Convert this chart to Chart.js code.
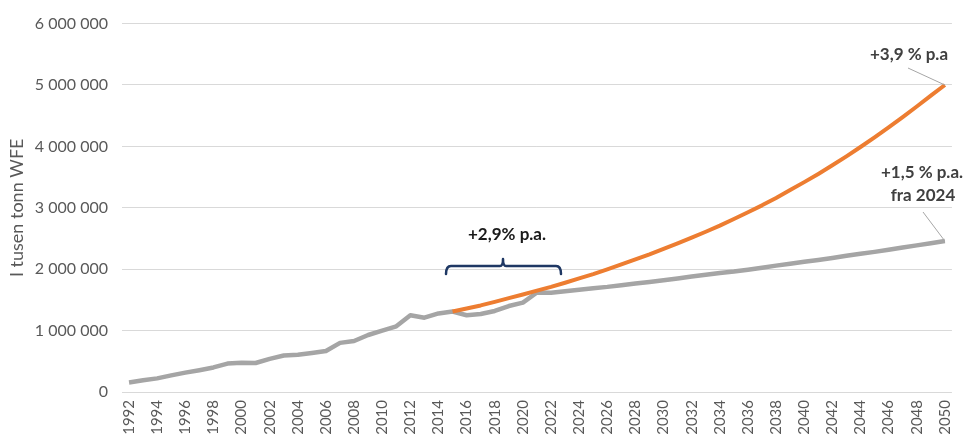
<!DOCTYPE html>
<html>
<head>
<meta charset="utf-8">
<script src="https://cdn.jsdelivr.net/npm/chart.js@4.4.1/dist/chart.umd.min.js"></script>
<style>
  html, body { margin: 0; padding: 0; background: #fff; }
  #wrap { width: 971px; height: 440px; position: relative; }
</style>
</head>
<body>
<div id="wrap"><canvas id="chart"></canvas></div>
<script>
// --- DATA ---
const years = [
  '1992','1993','1994','1995','1996','1997','1998','1999','2000','2001',
  '2002','2003','2004','2005','2006','2007','2008','2009','2010','2011',
  '2012','2013','2014','2015','2016','2017','2018','2019','2020','2021',
  '2022','2023','2024','2025','2026','2027','2028','2029','2030','2031',
  '2032','2033','2034','2035','2036','2037','2038','2039','2040','2041',
  '2042','2043','2044','2045','2046','2047','2048','2049','2050'
];

// grey: history + 1,5 % p.a. from 2024
const greySeries = [
  155000, 190000, 222000, 270000, 315000, 355000, 400000, 463000, 475000, 472000,
  540000, 595000, 605000, 635000, 668000, 800000, 830000, 928000, 1000000, 1070000,
  1250000, 1210000, 1280000, 1310000, 1250000, 1270000, 1320000, 1400000, 1455000, 1620000,
  1615000, 1640000, 1665000, 1690000, 1712000, 1740000, 1768000, 1793000, 1820000, 1850000,
  1880000, 1908000, 1938000, 1962000, 1992000, 2025000, 2058000, 2090000, 2120000, 2150000,
  2182000, 2218000, 2250000, 2282000, 2318000, 2352000, 2388000, 2422000, 2458000
];

// orange: +2,9 % / +3,9 % p.a. path from 2015
const orangeSeries = [
  null, null, null, null, null, null, null, null, null, null,
  null, null, null, null, null, null, null, null, null, null,
  null, null, null, 1310000, 1360000, 1410000, 1468000, 1528000, 1588000, 1650000,
  1712000, 1780000, 1850000, 1920000, 1998000, 2078000, 2160000, 2242000, 2330000, 2420000,
  2515000, 2610000, 2710000, 2818000, 2928000, 3040000, 3160000, 3288000, 3418000, 3552000,
  3692000, 3838000, 3990000, 4148000, 4310000, 4478000, 4650000, 4828000, 5000000
];

const yTicks = [0, 1000000, 2000000, 3000000, 4000000, 5000000, 6000000];

const GREY = '#a5a5a5';
const ORANGE = '#ed7d31';
const TEXT = '#595959';

function fmtSpace(v) {
  return String(v).replace(/\B(?=(\d{3})+(?!\d))/g, ' ');
}

// annotations: growth labels, leader lines and the bracket
const notesPlugin = {
  id: 'notes',
  afterDatasetsDraw(chart) {
    const ctx = chart.ctx;
    const x = chart.scales.x, y = chart.scales.y;
    const px = i => x.getPixelForValue(i);
    const py = v => y.getPixelForValue(v);
    const last = years.length - 1;

    ctx.save();
    ctx.textAlign = 'center';
    ctx.textBaseline = 'middle';

    // +3,9 % p.a
    ctx.font = 'bold 17px Lato, "Open Sans", sans-serif';
    ctx.fillStyle = '#404040';
    ctx.fillText('+3,9 % p.a', 909, 55);
    ctx.strokeStyle = '#a6a6a6';
    ctx.lineWidth = 1;
    ctx.beginPath();
    ctx.moveTo(908, 68);
    ctx.lineTo(px(last), py(orangeSeries[last]));
    ctx.stroke();

    // +1,5 % p.a. fra 2024
    ctx.fillText('+1,5 % p.a.', 922, 173);
    ctx.fillText('fra 2024', 923, 196);
    ctx.beginPath();
    ctx.moveTo(923, 212);
    ctx.lineTo(px(last), py(greySeries[last]));
    ctx.stroke();

    // +2,9% p.a. with bracket
    ctx.fillStyle = '#1a1a1a';
    ctx.fillText('+2,9% p.a.', 507, 235);
    ctx.strokeStyle = '#1f3864';
    ctx.lineWidth = 2.5;
    ctx.lineJoin = 'round';
    ctx.lineCap = 'round';
    const bx0 = 446, bx1 = 561, bmid = 503, by = 266;
    ctx.beginPath();
    ctx.moveTo(bx0, 274);
    ctx.quadraticCurveTo(bx0, by, bx0 + 5, by);
    ctx.lineTo(bmid - 3, by);
    ctx.quadraticCurveTo(bmid, by, bmid, 259);
    ctx.quadraticCurveTo(bmid, by, bmid + 3, by);
    ctx.lineTo(bx1 - 5, by);
    ctx.quadraticCurveTo(bx1, by, bx1, 274);
    ctx.stroke();
    ctx.restore();
  }
};

new Chart(document.getElementById('chart'), {
  type: 'line',
  data: {
    labels: years,
    datasets: [
      {
        label: 'Vekst',
        data: orangeSeries,
        borderColor: ORANGE,
        borderWidth: 4,
        pointRadius: 0,
        tension: 0,
        spanGaps: false,
        borderJoinStyle: 'round'
      },
      {
        label: 'Historisk',
        data: greySeries,
        borderColor: GREY,
        borderWidth: 4.5,
        pointRadius: 0,
        tension: 0,
        borderJoinStyle: 'round'
      }
    ]
  },
  options: {
    responsive: true,
    maintainAspectRatio: false,
    animation: false,
    layout: { padding: { top: 14, right: 13, left: 6, bottom: 0 } },
    plugins: {
      legend: { display: false },
      tooltip: { enabled: false }
    },
    scales: {
      x: {
        offset: true,
        grid: { display: false, drawTicks: false },
        border: { display: false },
        afterFit: s => { s.height = 48; },
        ticks: {
          autoSkip: false,
          maxRotation: 90,
          minRotation: 90,
          padding: 8,
          color: TEXT,
          font: { family: 'Lato, "Open Sans", sans-serif', size: 15 },
          callback: function (v, i) { return i % 2 === 0 ? years[i] : ''; }
        }
      },
      y: {
        min: 0,
        max: 6000000,
        afterFit: s => { s.width = 116; },
        afterBuildTicks: s => { s.ticks = yTicks.map(v => ({ value: v })); },
        grid: { color: '#d9d9d9', lineWidth: 1, drawTicks: false },
        border: { display: false },
        ticks: {
          padding: 14,
          color: TEXT,
          font: { family: 'Lato, "Open Sans", sans-serif', size: 16 },
          callback: v => fmtSpace(v)
        },
        title: {
          display: true,
          text: 'I tusen tonn WFE',
          color: TEXT,
          padding: { top: 0, bottom: 0 },
          font: { family: 'Lato, "Open Sans", sans-serif', size: 18 }
        }
      }
    }
  },
  plugins: [notesPlugin]
});
</script>
</body>
</html>
